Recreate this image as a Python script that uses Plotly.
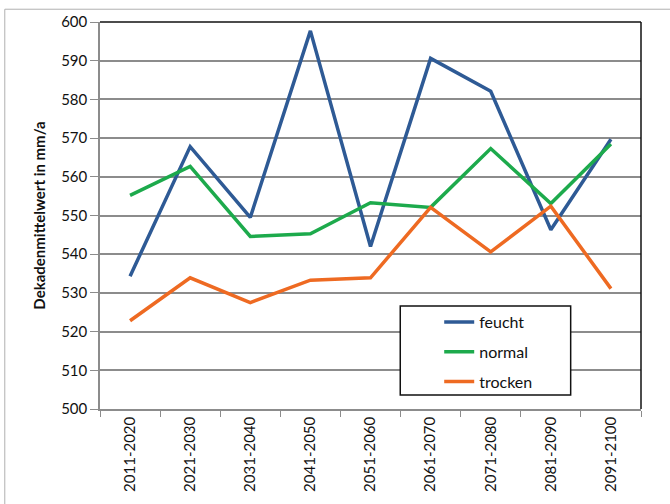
import plotly.graph_objects as go

# Decade labels and decade mean values (mm/a) for three scenarios
decades = ["2011-2020", "2021-2030", "2031-2040", "2041-2050", "2051-2060",
           "2061-2070", "2071-2080", "2081-2090", "2091-2100"]
feucht = [534.3, 567.8, 549.5, 597.7, 542.0, 590.6, 582.1, 546.3, 569.7]
normal = [555.2, 562.7, 544.6, 545.3, 553.3, 552.1, 567.3, 553.1, 568.5]
trocken = [522.8, 533.9, 527.5, 533.3, 533.9, 552.1, 540.6, 552.4, 531.1]
y_ticks = [500, 510, 520, 530, 540, 550, 560, 570, 580, 590, 600]

series = [("feucht", feucht, "#2E5A95"),
          ("normal", normal, "#1DAA4C"),
          ("trocken", trocken, "#EE6A22")]

fig = go.Figure()
for name, vals, col in series:
    fig.add_trace(go.Scatter(x=decades, y=vals, mode="lines", name=name,
                             legendgroup=name,
                             line=dict(color=col, width=3.5)))

font_family = "Lato, 'Open Sans', sans-serif"

fig.update_layout(
    width=670, height=504,
    margin=dict(l=100, r=29, t=20, b=93),
    paper_bgcolor="white", plot_bgcolor="white",
    font=dict(family=font_family, size=14, color="#111111"),
    showlegend=True,
    legend=dict(x=0.627, y=0.2685, xanchor="left", yanchor="top",
                borderwidth=0, bgcolor="rgba(0,0,0,0)",
                font=dict(size=16), tracegroupgap=6),
    xaxis=dict(showline=True, linecolor="#8c8c8c", linewidth=1.5,
               ticks="outside", tickson="boundaries", ticklen=6,
               tickcolor="#8c8c8c", tickangle=-90, showgrid=False,
               tickfont=dict(size=15), range=[-0.5, 8.5]),
    yaxis=dict(range=[500, 600], tickvals=y_ticks, showline=True,
               linecolor="#8c8c8c", linewidth=1.5, ticks="outside",
               ticklen=8, tickcolor="#8c8c8c", gridcolor="#8c8c8c",
               gridwidth=1.5, tickfont=dict(size=15),
               title=dict(text="<b>Dekadenmittelwert in mm/a</b>",
                          font=dict(size=15), standoff=12)),
)

# dark frame along top and right of the plotting area
fig.add_shape(type="line", xref="paper", yref="paper", x0=0, x1=1, y0=1, y1=1,
              line=dict(color="#111111", width=1.5))
fig.add_shape(type="line", xref="paper", yref="paper", x0=1, x1=1, y0=0, y1=1,
              line=dict(color="#111111", width=1.5))
# legend frame
fig.add_shape(type="rect", xref="paper", yref="paper",
              x0=0.555, x1=0.87, y0=0.036, y1=0.266,
              fillcolor="white", layer="above",
              line=dict(color="#111111", width=1.5))
# outer chart border
fig.add_shape(type="rect", xref="paper", yref="paper",
              x0=-0.176, x1=1.08, y0=-0.26, y1=1.033,
              line=dict(color="#b0b0b0", width=1))

fig.write_html("out.html")
